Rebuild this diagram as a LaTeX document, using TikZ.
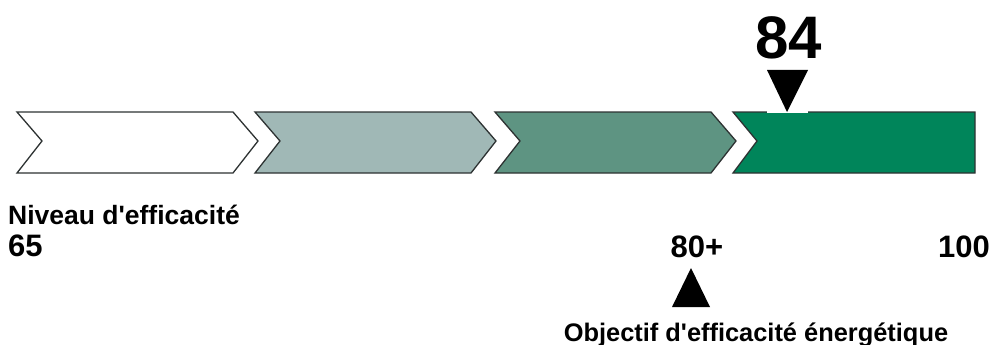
\documentclass[tikz,border=0pt]{standalone}
\usepackage{fontspec}
\setmainfont{Liberation Sans}
\usetikzlibrary{positioning}
\definecolor{grisvert}{RGB}{160,184,182}
\definecolor{vertmoyen}{RGB}{94,148,130}
\definecolor{vertfonce}{RGB}{0,133,90}
\definecolor{bordure}{RGB}{45,50,50}

\begin{document}
\begin{tikzpicture}[x=1pt, y=-1pt,
    chevron/.style = {draw=bordure, line width=1.3pt, line join=miter},
    etiquette/.style = {font=\fontsize{26.5}{28}\selectfont\bfseries, inner sep=0pt},
    valeur/.style = {font=\fontsize{31}{33}\selectfont\bfseries, inner sep=0pt}]

    \useasboundingbox (0,0) rectangle (994,345);

    % les trois fleches
    \foreach \xa/\col in {17/white, 255/grisvert, 495/vertmoyen}
        \draw[chevron, fill=\col] (\xa,112) -- ++(216,0) -- ++(25,29) -- ++(-25,32)
            -- ++(-216,0) -- ++(25,-32) -- cycle;
    % le dernier bloc
    \draw[chevron, fill=vertfonce] (733,112) -- (975,112) -- (975,173) -- (733,173)
        -- (757,141) -- cycle;

    % valeur mesuree
    \fill[white] (767,70) rectangle (808,113);
    \fill (767,70) -- (808,70) -- (787,112) coordinate (pointe) -- cycle;
    \node[font=\fontsize{60}{62}\selectfont\bfseries, inner sep=0pt] (mesure) at (789,38) {84};

    % echelle
    \node[etiquette, anchor=base west] (niveau) at (8,224) {Niveau d\textquotesingle efficacité};
    \node[valeur, anchor=base west] (min) at (8,256) {65};
    \node[valeur, anchor=base] (seuil) at (697,257) {80+};
    \node[valeur, anchor=base east] (max) at (990,257) {100};

    % objectif
    \fill (672,307) -- (710,307) -- (691,268) coordinate (cible) -- cycle;
    \node[etiquette, font=\fontsize{25.4}{27}\selectfont\bfseries, anchor=base] (objectif) at (756,341)
        {Objectif d\textquotesingle efficacité énergétique};

\end{tikzpicture}
\end{document}
